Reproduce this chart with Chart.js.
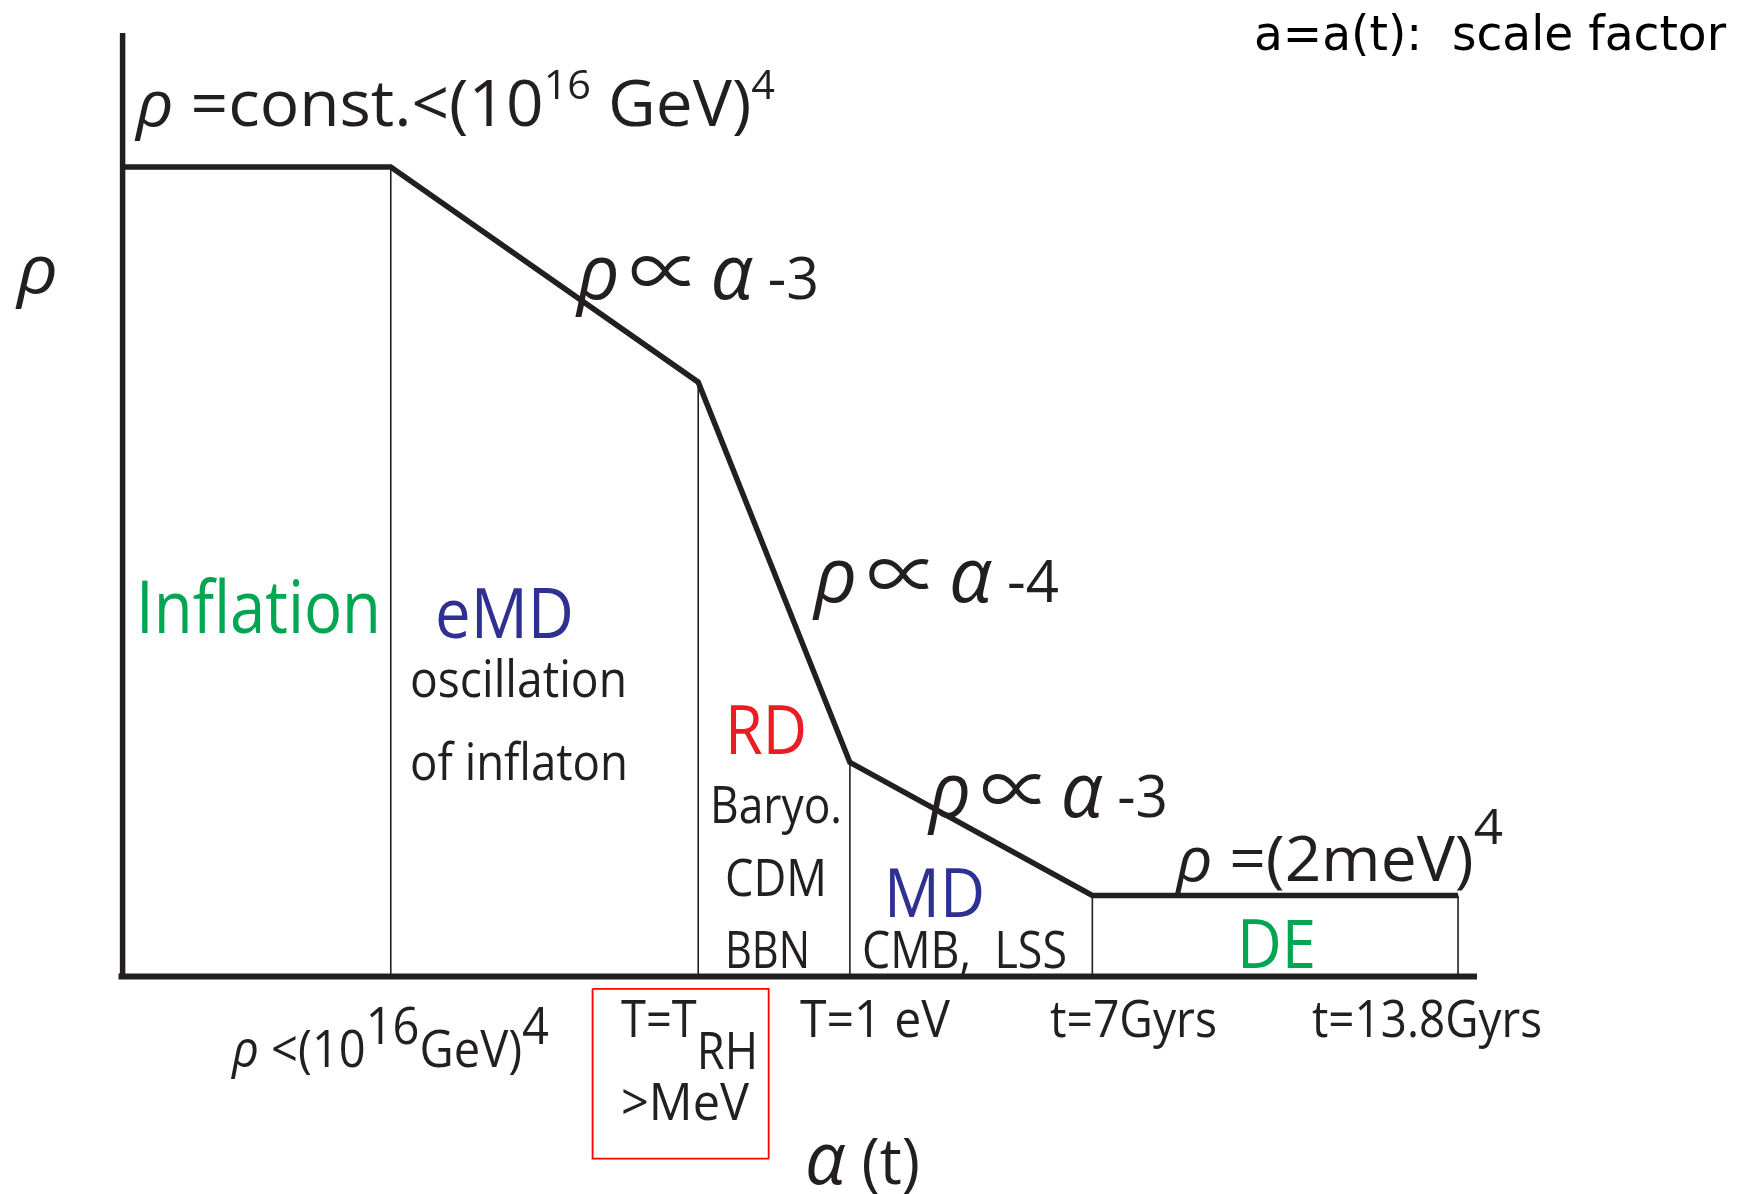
<!DOCTYPE html>
<html>
<head>
<meta charset="utf-8">
<title>Energy density vs scale factor</title>
<script src="https://cdn.jsdelivr.net/npm/chart.js@4.4.0/dist/chart.umd.min.js"></script>
<style>
  html, body { margin: 0; padding: 0; background: #fff; overflow: hidden; }
  canvas { display: block; }
</style>
</head>
<body>
<canvas id="chart" width="1748" height="1194"></canvas>
<script>
// eras and their break points (log a, log rho in arbitrary units)
const eras = ['Inflation', 'eMD', 'RD', 'MD', 'DE'];
const logA = [0, 19.8, 42.5, 53.7, 71.6, 98.6];
const logRho = [85.8, 85.8, 63.0, 22.7, 8.6, 8.6];
const axisMax = 100;
// reheating box corners (log a, log rho)
const rhBoxA = [34.7, 47.7];
const rhBoxRho = [-1.3, -19.3];

const INK = '#231f20';
const GREEN = '#00a651';
const BLUE = '#2e3192';
const RED = '#ed1c24';
const SANS = '"Open Sans", "Noto Sans", sans-serif';
const MATH = '"Noto Sans CJK JP", "DejaVu Sans", sans-serif';
const COMIC = '"Comic Sans MS", "DejaVu Sans", sans-serif';

const curve = logA.map((a, i) => ({ x: a, y: logRho[i] }));

const datasets = [];
// thin era dividers
logA.slice(1).forEach((a, i) => {
  datasets.push({
    data: [{ x: a, y: 0 }, { x: a, y: logRho[i + 1] }],
    borderColor: INK, borderWidth: 1.6
  });
});
datasets.push({ data: curve, borderColor: INK, borderWidth: 5.5 });
datasets.push({ data: [{ x: 0, y: 0 }, { x: 0, y: axisMax }], borderColor: INK, borderWidth: 5.5 });
datasets.push({ data: [{ x: -0.3, y: 0 }, { x: axisMax, y: 0 }], borderColor: INK, borderWidth: 6 });
datasets.push({
  data: [
    { x: rhBoxA[0], y: rhBoxRho[0] }, { x: rhBoxA[1], y: rhBoxRho[0] },
    { x: rhBoxA[1], y: rhBoxRho[1] }, { x: rhBoxA[0], y: rhBoxRho[1] },
    { x: rhBoxA[0], y: rhBoxRho[0] }
  ],
  borderColor: '#ff0000', borderWidth: 1.8
});
datasets.forEach(d => Object.assign(d, {
  showLine: true, pointRadius: 0, fill: false, tension: 0, clip: false,
  borderJoinStyle: 'miter', borderCapStyle: 'butt'
}));

// text annotations: [text, {it: italic, r: size ratio, dy: shift in em, sx: extra x stretch, fam}]
const prop = (tail) => [['ρ', { it: 1, r: 1.3 }], ['\u2009'], ['∝', { r: 1.25, dy: 0, fam: MATH }], ['\u2009'], ['α', { it: 1, r: 1.3 }], [' ' + tail]];
const notes = [
  { x: 1254, y: 50, size: 48, w: 472, color: '#000', family: COMIC, segs: [['a=a(t):  scale factor']] },
  { x: 136, y: 126, size: 64, w: 639, color: INK, segs: [['ρ', { it: 1 }], [' =const.<(10'], ['16', { r: 0.63, dy: -0.42 }], [' GeV)'], ['4', { r: 0.63, dy: -0.42 }]] },
  { x: 17, y: 293, size: 68, w: 41, color: INK, segs: [['ρ', { it: 1 }]] },
  { x: 577, y: 299, size: 59, w: 242, color: INK, segs: prop('-3') },
  { x: 814, y: 602, size: 59, w: 245, color: INK, segs: prop('-4') },
  { x: 929, y: 817, size: 59, w: 239, color: INK, segs: prop('-3') },
  { x: 1176, y: 881, size: 62, w: 327, color: INK, segs: [['ρ', { it: 1 }], [' =(2meV)'], ['4', { r: 0.8, dy: -0.6 }]] },
  { x: 136, y: 633, size: 74, w: 245, color: GREEN, segs: [[eras[0]]] },
  { x: 435, y: 638, size: 69, w: 139, color: BLUE, segs: [[eras[1]]] },
  { x: 410, y: 697, size: 52, w: 217, color: INK, segs: [['oscillation']] },
  { x: 410, y: 780, size: 52, w: 218, color: INK, segs: [['of inflaton']] },
  { x: 725, y: 754, size: 68, w: 82, color: RED, segs: [[eras[2]]] },
  { x: 710, y: 823, size: 52, w: 132, color: INK, segs: [['Baryo.']] },
  { x: 725, y: 896, size: 52, w: 102, color: INK, segs: [['CDM']] },
  { x: 725, y: 968, size: 52, w: 85, color: INK, segs: [['BBN']] },
  { x: 884, y: 917, size: 68, w: 101, color: BLUE, segs: [[eras[3]]] },
  { x: 862, y: 968, size: 52, w: 205, color: INK, segs: [['CMB,  LSS']] },
  { x: 1237, y: 968, size: 68, w: 79, color: GREEN, segs: [[eras[4]]] },
  { x: 232, y: 1067, size: 52, w: 317, color: INK, segs: [['ρ', { it: 1 }], [' <(10'], ['16', { dy: -0.45 }], ['GeV)'], ['4', { dy: -0.45 }]] },
  { x: 621, y: 1037, size: 52, w: 137, color: INK, segs: [['T=T'], ['RH', { dy: 0.62 }]] },
  { x: 621, y: 1120, size: 52, w: 128, color: INK, segs: [['>MeV']] },
  { x: 800, y: 1037, size: 52, w: 150, color: INK, segs: [['T=1 eV']] },
  { x: 1050, y: 1037, size: 52, w: 167, color: INK, segs: [['t=7Gyrs']] },
  { x: 1312, y: 1037, size: 52, w: 230, color: INK, segs: [['t=13.8Gyrs']] },
  { x: 805, y: 1184, size: 64, w: 115, color: INK, segs: [['α', { it: 1, r: 1.15 }], [' (t)']] }
];

function drawNote(ctx, n) {
  const parts = n.segs.map(s => {
    const o = s[1] || {};
    const px = n.size * (o.r || 1);
    const fam = o.fam || n.family || SANS;
    return {
      t: s[0], sx: o.sx || 1, dy: (o.dy || 0) * n.size,
      font: (o.it ? 'italic ' : '') + px + 'px ' + fam
    };
  });
  let total = 0;
  parts.forEach(p => { ctx.font = p.font; p.w = ctx.measureText(p.t).width * p.sx; total += p.w; });
  const k = n.w ? n.w / total : 1;
  ctx.save();
  ctx.translate(n.x, n.y);
  ctx.scale(k, 1);
  ctx.fillStyle = n.color;
  ctx.textBaseline = 'alphabetic';
  let cx = 0;
  parts.forEach(p => {
    ctx.save();
    ctx.font = p.font;
    ctx.translate(cx, p.dy);
    ctx.scale(p.sx, 1);
    ctx.fillText(p.t, 0, 0);
    ctx.restore();
    cx += p.w;
  });
  ctx.restore();
}

const notesPlugin = {
  id: 'notes',
  afterDatasetsDraw(chart) {
    const ctx = chart.ctx;
    notes.forEach(n => drawNote(ctx, n));
  }
};

new Chart(document.getElementById('chart'), {
  type: 'scatter',
  data: { datasets },
  options: {
    responsive: false,
    animation: false,
    devicePixelRatio: 1,
    layout: { padding: { left: 122.6, right: 271, top: 33, bottom: 217.4 } },
    plugins: { legend: { display: false }, tooltip: { enabled: false } },
    events: [],
    scales: {
      x: { type: 'linear', min: 0, max: axisMax, display: false },
      y: { type: 'linear', min: 0, max: axisMax, display: false }
    }
  },
  plugins: [notesPlugin]
});
</script>
</body>
</html>
